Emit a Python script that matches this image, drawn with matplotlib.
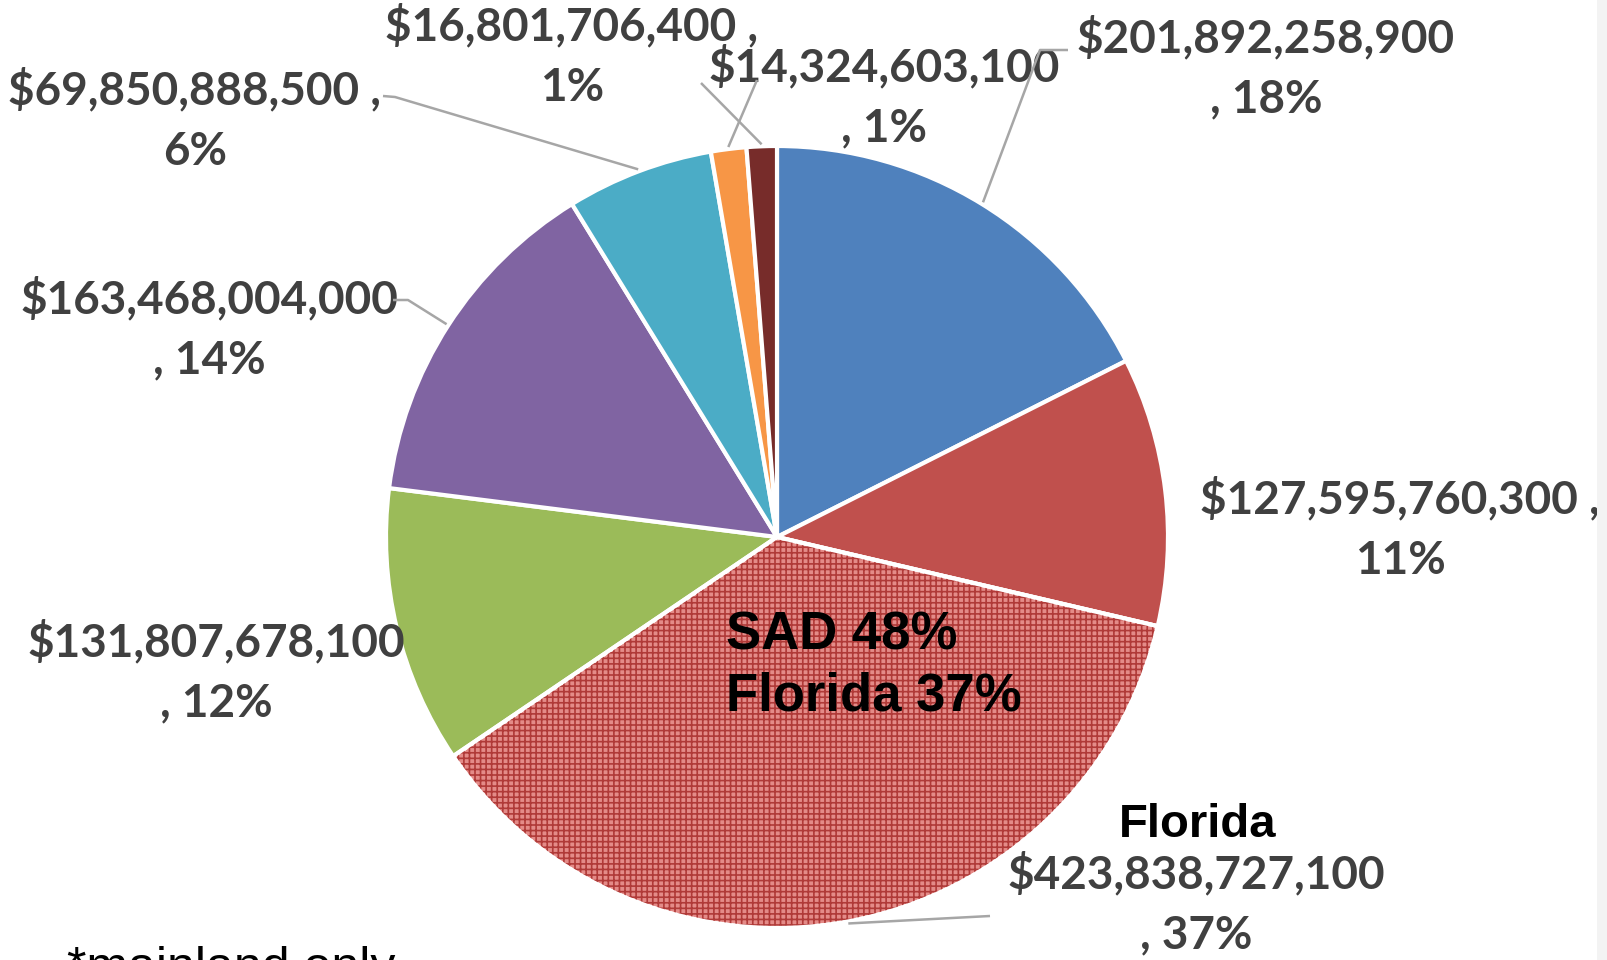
import numpy as np
import matplotlib
matplotlib.use("Agg")
import matplotlib.pyplot as plt
from matplotlib.patches import Wedge, Rectangle

# slice data, clockwise from 12 o'clock
states = ["Slice 1", "Slice 2", "Florida", "Slice 4", "Slice 5", "Slice 6", "Slice 7", "Slice 8"]
values = [201892258900, 127595760300, 423838727100, 131807678100,
          163468004000, 69850888500, 16801706400, 14324603100]
pct_labels = ["18%", "11%", "37%", "12%", "14%", "6%", "1%", "1%"]
colors = ["#4F81BD", "#C0504D", "#E48B88", "#9BBB59", "#8064A2", "#4BACC6", "#F79646", "#772C2A"]

W, H = 1608, 960
def Y(y):
    # pixel row -> data y (data y grows upward)
    return H - y

cx, cy, R = 777, 537, 391

fig = plt.figure(figsize=(W / 100, H / 100), dpi=100)
ax = fig.add_axes([0, 0, 1, 1])

wedges, _ = ax.pie(values, startangle=90, counterclock=False, colors=colors,
                   center=(cx, Y(cy)), radius=R,
                   wedgeprops=dict(edgecolor="white", linewidth=3))
ax.set_xlim(0, W)
ax.set_ylim(0, H)
ax.set_aspect("equal")
ax.axis("off")

# Florida slice gets a dotted texture
fl = wedges[2]
plt.rcParams["hatch.linewidth"] = 1.2
ax.add_patch(Wedge(fl.center, fl.r, fl.theta1, fl.theta2, fill=False,
                   edgecolor="#B03A38", linewidth=0, hatch="+++", zorder=2))
ax.add_patch(Wedge(fl.center, fl.r, fl.theta1, fl.theta2, fill=False,
                   edgecolor="white", linewidth=3, zorder=3))

def edge_point(w, r_extra=0):
    a = np.deg2rad((w.theta1 + w.theta2) / 2)
    return (w.center[0] + (w.r + r_extra) * np.cos(a),
            w.center[1] + (w.r + r_extra) * np.sin(a))

label_font = dict(family=["Lato", "DejaVu Sans"], fontsize=33,
                  fontweight="bold", color="#404040", ha="center", va="center",
                  linespacing=1.55)

# label layout: (x, y) block center in pixels, and value/pct split
label_pos = [(1266, 68), (1400, 529), (1196, 904), (216, 672),
             (209, 329), (195, 120), (572, 56), (884, 97)]
pct_on_first = [False, True, False, False, False, True, True, False]

for v, p, pos, first in zip(values, pct_labels, label_pos, pct_on_first):
    money = f"${v:,.0f}"
    txt = f"{money} ,\n{p}" if first else f"{money}\n, {p}"
    ax.text(pos[0], Y(pos[1]), txt, **label_font)

# leader lines: slice edge -> bend -> end near label
leaders = {0: [(1040, 50), (1068, 50)],
           2: [(990, 916)],
           4: [(408, 300), (393, 300)],
           5: [(395, 97), (383, 96)],
           6: [(757, 80)],
           7: [(701, 83)]}
for i, pts in leaders.items():
    ex, ey = edge_point(wedges[i], 2)
    xs = [ex] + [p[0] for p in pts]
    ys = [ey] + [Y(p[1]) for p in pts]
    ax.plot(xs, ys, color="#A6A6A6", linewidth=1.8, zorder=4, solid_capstyle="butt")

ax.text(726, Y(666), "SAD 48%\nFlorida 37%", family=["Liberation Sans", "DejaVu Sans"],
        fontsize=38, fontweight="bold", color="black", ha="left", va="center",
        linespacing=1.3, zorder=5)
ax.text(1198, Y(825), "Florida", family=["Liberation Sans", "DejaVu Sans"],
        fontsize=34, fontweight="bold", color="black", ha="center", va="center", zorder=5)
ax.text(67, Y(982), "*mainland only", family=["Liberation Sans", "DejaVu Sans"],
        fontsize=36, color="black", ha="left", va="baseline")

# faint strip on the right border
fig.patches.append(Rectangle((1597 / W, 0), 11 / W, 1, transform=fig.transFigure,
                             facecolor="#F3F3F3", edgecolor="none", zorder=0))

fig.savefig("out.png", dpi=100)
